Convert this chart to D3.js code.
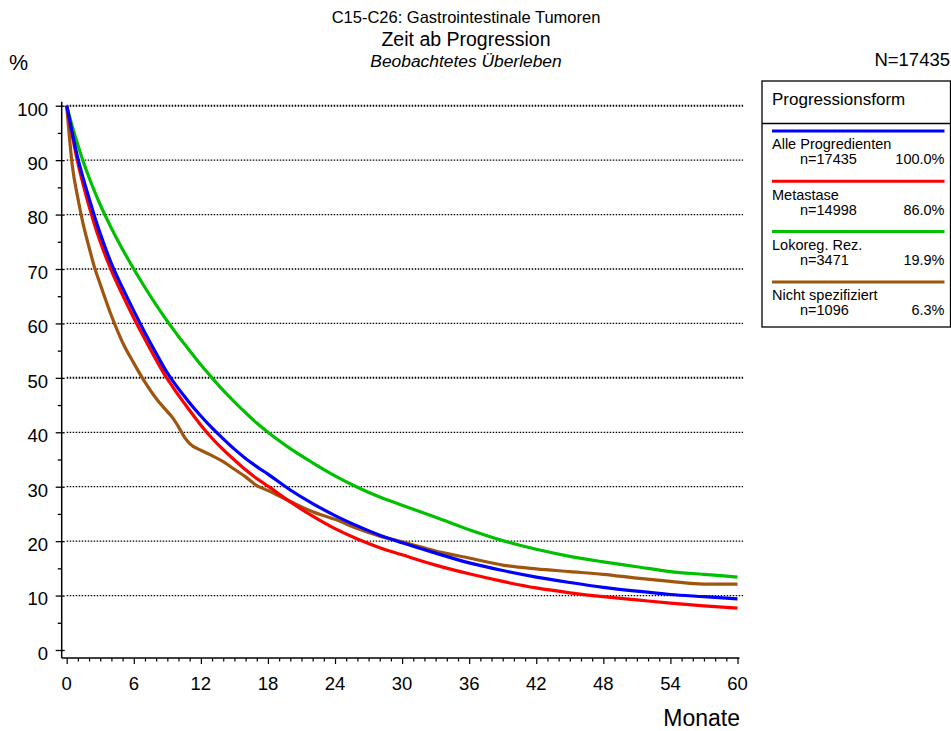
<!DOCTYPE html>
<html>
<head>
<meta charset="utf-8">
<script src="https://cdn.jsdelivr.net/npm/d3@7"></script>
<style>
  body { margin: 0; background: #fff; }
  svg { font-family: Arial, "Liberation Sans", sans-serif; }
</style>
</head>
<body>
<div class="chart"></div>
<script>
const months = [0, 0.5, 1, 1.5, 2, 2.5, 3, 4, 5, 6, 7, 8, 9, 9.5, 10, 10.5, 11, 12, 13, 14, 15, 16, 17, 18,
    20, 22, 24, 26, 28, 30, 33, 36, 39, 42, 45, 48, 51, 54, 57, 60];

const alle = [100, 95, 90.3, 86.5, 83, 79.6, 76.5, 71, 66.5, 62.3, 58.3, 54.5, 50.9, 49.4, 48.0, 46.7, 45.4, 43, 40.8, 38.8, 36.9, 35.2, 33.7, 32.3,
    29.4, 26.9, 24.7, 22.8, 21.1, 19.7, 17.8, 16.0, 14.6, 13.4, 12.4, 11.5, 10.8, 10.2, 9.8, 9.4];
const metastase = [100, 94.5, 89.5, 85.3, 81.5, 78.1, 75, 69.7, 65.2, 61, 57.1, 53.3, 49.8, 48.3, 46.8, 45.4, 44, 41.3, 38.9, 36.8, 34.9, 33.1, 31.5, 30.1,
    27.2, 24.6, 22.3, 20.4, 18.8, 17.5, 15.6, 14.0, 12.6, 11.4, 10.5, 9.8, 9.2, 8.6, 8.1, 7.7];
const lokoreg = [100, 96.2, 92.8, 89.6, 86.8, 84.2, 81.8, 77.5, 73.6, 70.0, 66.6, 63.4, 60.4, 59.0, 57.6, 56.3, 55.0, 52.4, 50.0, 47.7, 45.6, 43.6, 41.7, 40.0,
    37, 34.4, 32, 29.9, 28.1, 26.6, 24.4, 22.1, 20.1, 18.5, 17.2, 16.2, 15.3, 14.4, 13.9, 13.4];
const nichtSpez = [100, 89, 83, 78, 74, 70.2, 67.2, 61.4, 56.5, 52.7, 49.2, 46.2, 43.8, 42.6, 41, 39.2, 37.9, 36.7, 35.7, 34.6, 33.2, 31.8, 30.2, 29.3,
    27.3, 25.4, 24, 22.3, 20.9, 19.9, 18.2, 16.9, 15.6, 14.9, 14.4, 13.9, 13.2, 12.6, 12.1, 12.1];

const groupNames = ["Alle Progredienten", "Metastase", "Lokoreg. Rez.", "Nicht spezifiziert"];
const groupN = ["n=17435", "n=14998", "n=3471", "n=1096"];
const groupPct = ["100.0%", "86.0%", "19.9%", "6.3%"];
const groupColors = ["#0000ff", "#ff0000", "#00c000", "#a0550f"];

const yTicks = [0, 10, 20, 30, 40, 50, 60, 70, 80, 90, 100];
const xTicks = [0, 6, 12, 18, 24, 30, 36, 42, 48, 54, 60];

const w = 951, h = 731;

const svg = d3.select(".chart")
    .append("svg")
    .attr("width", w)
    .attr("height", h)

const x = d3.scaleLinear().domain([0, 60]).range([66.7, 737.5]);
const y = d3.scaleLinear().domain([0, 100]).range([650, 105.7]);
const axisX = 61.7, axisY = 658;

// titles
svg.append("text").attr("x", 466).attr("y", 18.5).attr("text-anchor", "middle")
    .attr("dominant-baseline", "middle").style("font-size", "16.5px").text("C15-C26: Gastrointestinale Tumoren");
svg.append("text").attr("x", 466).attr("y", 40.5).attr("text-anchor", "middle")
    .attr("dominant-baseline", "middle").style("font-size", "19.5px").text("Zeit ab Progression");
svg.append("text").attr("x", 466).attr("y", 62).attr("text-anchor", "middle")
    .attr("dominant-baseline", "middle").style("font-size", "17.4px").style("font-style", "italic").text("Beobachtetes Überleben");
svg.append("text").attr("x", 9).attr("y", 64)
    .attr("dominant-baseline", "middle").style("font-size", "21.5px").text("%");
svg.append("text").attr("x", 950).attr("y", 61).attr("text-anchor", "end")
    .attr("dominant-baseline", "middle").style("font-size", "18.5px").text("N=17435");

// gridlines, 100 and 50 a bit heavier
svg.append("g")
    .selectAll("line")
    .data(yTicks.filter(function (d) { return d > 0; }))
    .enter()
    .append("line")
    .attr("x1", x(0))
    .attr("x2", x(60.5))
    .attr("y1", function (d) { return y(d); })
    .attr("y2", function (d) { return y(d); })
    .style("stroke", "#000")
    .style("stroke-width", function (d) { return (d == 100 || d == 50) ? 2 : 1.3; })
    .style("stroke-dasharray", "1.5,1.5");

// y axis
const yAxis = d3.axisLeft(y)
    .tickValues(d3.range(0, 101, 5))
    .tickSize(0)
    .tickFormat("");
const gy = svg.append("g").attr("transform", "translate(" + axisX + ",0)").call(yAxis);
gy.select(".domain").remove();
gy.append("line").attr("x1", 0).attr("x2", 0).attr("y1", y(100) - 4).attr("y2", axisY)
    .style("stroke", "#000").style("stroke-width", 1.5);
gy.selectAll(".tick line")
    .attr("x1", function (d) { return d % 10 == 0 ? 3 : 0; })
    .attr("x2", function (d) { return d % 10 == 0 ? -6 : -4; })
    .style("stroke", "#000").style("stroke-width", 1.3);
svg.append("g")
    .selectAll("text")
    .data(yTicks)
    .enter()
    .append("text")
    .attr("x", 48)
    .attr("y", function (d) { return y(d) + 5; })
    .attr("text-anchor", "end")
    .attr("dominant-baseline", "middle")
    .style("font-size", "18.5px")
    .text(function (d) { return d; });

// x axis, a tick every month
const xAxis = d3.axisBottom(x)
    .tickValues(d3.range(0, 61, 1))
    .tickSize(0)
    .tickFormat("");
const gx = svg.append("g").attr("transform", "translate(0," + axisY + ")").call(xAxis);
gx.select(".domain").remove();
gx.append("line").attr("x1", axisX).attr("x2", x(60) + 2).attr("y1", 0).attr("y2", 0)
    .style("stroke", "#000").style("stroke-width", 1.5);
gx.selectAll(".tick line")
    .attr("y2", function (d) { return d % 6 == 0 ? 6 : 3.5; })
    .style("stroke", "#000").style("stroke-width", 1.2);
svg.append("g")
    .selectAll("text")
    .data(xTicks)
    .enter()
    .append("text")
    .attr("x", function (d) { return x(d); })
    .attr("y", 685)
    .attr("text-anchor", "middle")
    .attr("dominant-baseline", "middle")
    .style("font-size", "18.5px")
    .text(function (d) { return d; });
svg.append("text").attr("x", 740).attr("y", 720).attr("text-anchor", "end")
    .attr("dominant-baseline", "middle").style("font-size", "23px").text("Monate");

// survival curves
const series = [alle, metastase, lokoreg, nichtSpez];
const line = d3.line()
    .x(function (d) { return x(d[0]); })
    .y(function (d) { return y(d[1]); })
    .curve(d3.curveMonotoneX);

// draw brown first so blue sits on top where they overlap
[3, 2, 1, 0].forEach(function (i) {
    const pts = months.map(function (m, j) { return [m, series[i][j]]; });
    svg.append("path")
        .datum(pts)
        .attr("d", line)
        .style("fill", "none")
        .style("stroke", groupColors[i])
        .style("stroke-width", 3.2)
        .style("stroke-linejoin", "round");
});

// legend
const lg = svg.append("g").attr("transform", "translate(762,81)");
lg.append("rect").attr("x", 0).attr("y", 0).attr("width", 188.5).attr("height", 246)
    .style("fill", "#fff").style("stroke", "#000").style("stroke-width", 1.3);
lg.append("line").attr("x1", 0).attr("x2", 188.5).attr("y1", 42.5).attr("y2", 42.5)
    .style("stroke", "#000").style("stroke-width", 1.3);
lg.append("text").attr("x", 10).attr("y", 20).attr("dominant-baseline", "middle")
    .style("font-size", "17px").text("Progressionsform");

const items = lg.selectAll(".item")
    .data(groupNames)
    .enter()
    .append("g")
    .attr("class", "item")
    .attr("transform", function (d, i) { return "translate(0," + (50 + i * 50.3) + ")"; });
items.append("line")
    .attr("x1", 10).attr("x2", 182.5).attr("y1", 0).attr("y2", 0)
    .style("stroke", function (d, i) { return groupColors[i]; })
    .style("stroke-width", 3);
items.append("text")
    .attr("x", 10).attr("y", 14.5).attr("dominant-baseline", "middle")
    .style("font-size", "14.5px")
    .text(function (d) { return d; });
items.append("text")
    .attr("x", 38).attr("y", 29.5).attr("dominant-baseline", "middle")
    .style("font-size", "14.5px")
    .text(function (d, i) { return groupN[i]; });
items.append("text")
    .attr("x", 182.5).attr("y", 29.5).attr("text-anchor", "end").attr("dominant-baseline", "middle")
    .style("font-size", "14.5px")
    .text(function (d, i) { return groupPct[i]; });
</script>
</body>
</html>
